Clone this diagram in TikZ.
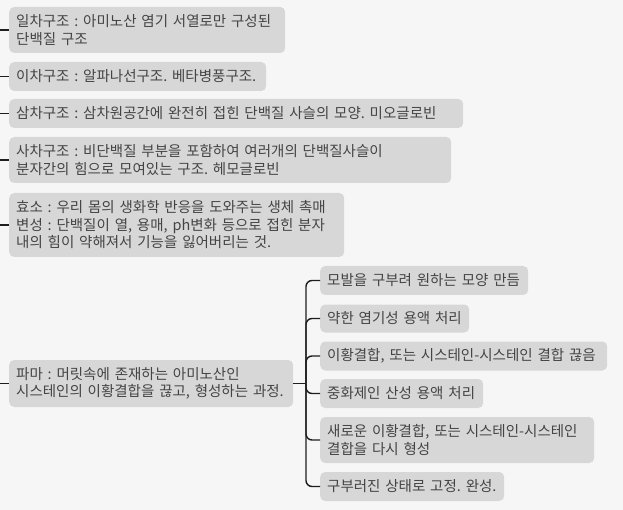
\documentclass[tikz,border=0pt]{standalone}
\usepackage{fontspec}
\newfontfamily\kr{Noto Sans CJK KR}
\usepackage{xcolor}
\usepackage{tikz}
\usetikzlibrary{calc}
\definecolor{pagebg}{HTML}{F6F6F6}
\definecolor{boxgray}{HTML}{D7D7D7}
\definecolor{inkgray}{HTML}{444444}
\definecolor{linegray}{HTML}{1E1E1E}
\frenchspacing
\tikzset{
  topic/.style={fill=boxgray, text=inkgray, rounded corners=5pt, anchor=west,
    align=left, inner xsep=7pt, inner ysep=0pt, font=\kr\fontsize{14.5}{17.5}\selectfont},
  branch/.style={draw=linegray, line width=1.4pt, rounded corners=6pt}
}

\begin{document}
\begin{tikzpicture}[x=1pt,y=-1pt]
    \useasboundingbox (0,0) rectangle (623,510);
    \fill[pagebg] (0,0) rectangle (623,510);
    % protein structure
    \node[topic, text width=262pt, minimum height=46pt] (prim) at (9,30) {일차구조 : 아미노산 염기 서열로만 구성된\\단백질 구조};
    \node[topic, text width=243pt, minimum height=29pt] (sec) at (9,76.5) {이차구조 : 알파나선구조. 베타병풍구조.};
    \node[topic, text width=440pt, minimum height=29pt] (tert) at (9,113.5) {삼차구조 : 삼차원공간에 완전히 접힌 단백질 사슬의 모양. 미오글로빈};
    \node[topic, text width=428pt, minimum height=46pt] (quat) at (9,160) {사차구조 : 비단백질 부분을 포함하여 여러개의 단백질사슬이\\분자간의 힘으로 모여있는 구조. 헤모글로빈};
    \node[topic, text width=321pt, minimum height=64pt] (enz) at (9,225) {효소 : 우리 몸의 생화학 반응을 도와주는 생체 촉매\\변성 : 단백질이 열, 용매, ph변화 등으로 접힌 분자\\내의 힘이 약해져서 기능을 잃어버리는 것.};
    \node[topic, text width=270pt, minimum height=47pt] (perm) at (9,383.5) {파마 : 머릿속에 존재하는 아미노산인\\시스테인의 이황결합을 끊고, 형성하는 과정.};
    % steps
    \node[topic, text width=194pt, minimum height=29pt] (curl) at (320,280.5) {모발을 구부려 원하는 모양 만듬};
    \node[topic, text width=135pt, minimum height=28pt] (base) at (320,318.5) {약한 염기성 용액 처리};
    \node[topic, text width=273pt, minimum height=29pt] (cut) at (320,356) {이황결합, 또는 시스테인-시스테인 결합 끊음};
    \node[topic, text width=149pt, minimum height=29pt] (acid) at (320,393.5) {중화제인 산성 용액 처리};
    \node[topic, text width=260pt, minimum height=46pt] (bond) at (320,440) {새로운 이황결합, 또는 시스테인-시스테인\\결합을 다시 형성};
    \node[topic, text width=170pt, minimum height=29pt] (fix) at (320,486.5) {구부러진 상태로 고정. 완성.};
    \foreach \n in {prim,sec,tert,quat,enz,perm} {
        \coordinate (\n-in) at (\n.west -| 0,0);
        \draw[branch] (\n-in) -- (\n.west);
    }
    \coordinate (fork) at (306,383.5);
    \draw[branch] (perm.east) -- (fork);
    \foreach \n in {curl,base,cut,acid,bond,fix}
        \draw[branch] (fork) |- (\n.west);
  \end{tikzpicture}
\end{document}
